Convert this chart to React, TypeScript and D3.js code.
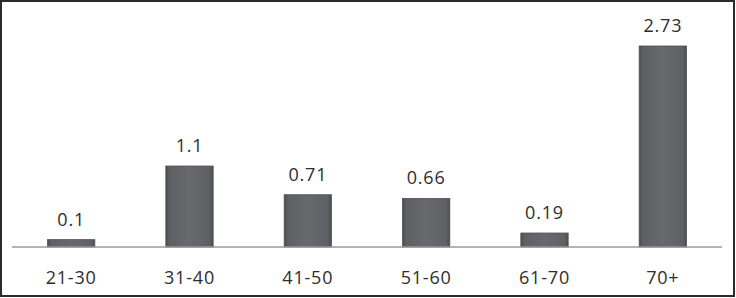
import React from "react";
import * as d3 from "d3";

const categories = ["21-30", "31-40", "41-50", "51-60", "61-70", "70+"];
const values = [0.1, 1.1, 0.71, 0.66, 0.19, 2.73];
const valueLabels = ["0.1", "1.1", "0.71", "0.66", "0.19", "2.73"];

const W = 736;
const H = 298;

export default function App() {
  const x = d3.scaleBand<string>().domain(categories).range([12, 722]).paddingInner(0.6).paddingOuter(0.3);
  const y = d3.scaleLinear().domain([0, 2.73]).range([247, 46]);
  const font = "'Open Sans', sans-serif";
  return (
    <svg width={W} height={H} style={{ position: "absolute", left: 0, top: 0, background: "#fff" }}>
      <defs>
        <linearGradient id="barg" x1="0" x2="1" y1="0" y2="0">
          <stop offset="0" stopColor="#4c4d51" />
          <stop offset="0.08" stopColor="#5f6064" />
          <stop offset="0.5" stopColor="#68696d" />
          <stop offset="0.92" stopColor="#5f6064" />
          <stop offset="1" stopColor="#4c4d51" />
        </linearGradient>
      </defs>
      <rect x={1} y={1} width={W - 3} height={H - 3} fill="#fff" stroke="#2b2b2b" strokeWidth={2} />
      {categories.map((c, i) => (
        <g key={c}>
          <rect
            x={x(c)}
            y={y(values[i])}
            width={x.bandwidth()}
            height={y(0) - y(values[i])}
            fill="url(#barg)"
            stroke="#505155"
            strokeWidth={0.8}
          />
          <text
            x={(x(c) as number) + x.bandwidth() / 2}
            y={y(values[i]) - 14}
            textAnchor="middle"
            fontFamily={font}
            fontSize={18}
            letterSpacing={0.8}
            fill="#2e2e2e"
          >
            {valueLabels[i]}
          </text>
          <text
            x={(x(c) as number) + x.bandwidth() / 2}
            y={284}
            textAnchor="middle"
            fontFamily={font}
            fontSize={18}
            letterSpacing={0.8}
            fill="#2e2e2e"
          >
            {c}
          </text>
        </g>
      ))}
      <line x1={12} x2={722} y1={y(0)} y2={y(0)} stroke="#9a9a9a" strokeWidth={1.5} />
    </svg>
  );
}
